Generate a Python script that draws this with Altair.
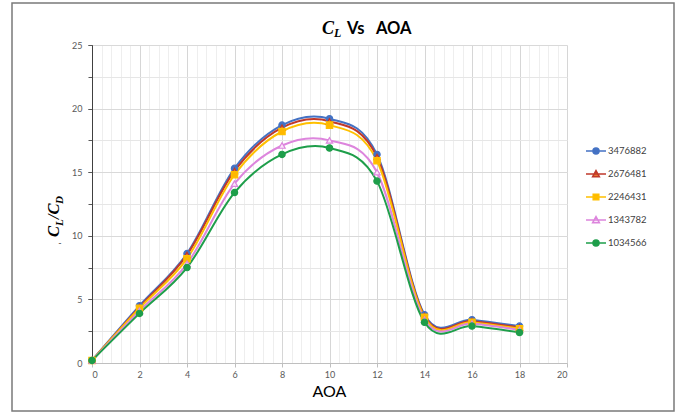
import altair as alt
import pandas as pd

# ---------------- data ----------------
aoa = [0, 2, 4, 6, 8, 10, 12, 14, 16, 18]
series_names = ["3476882", "2676481", "2246431", "1343782", "1034566"]
s_3476882 = [0.2, 4.5, 8.6, 15.3, 18.7, 19.2, 16.4, 3.8, 3.4, 2.9]
s_2676481 = [0.2, 4.4, 8.5, 15.1, 18.5, 19.0, 16.2, 3.7, 3.3, 2.8]
s_2246431 = [0.2, 4.3, 8.2, 14.8, 18.2, 18.7, 15.9, 3.6, 3.2, 2.7]
s_1343782 = [0.2, 4.1, 7.8, 14.1, 17.1, 17.5, 15.0, 3.4, 3.1, 2.6]
s_1034566 = [0.2, 3.9, 7.5, 13.4, 16.4, 16.9, 14.3, 3.2, 2.9, 2.4]
x_ticks = [0, 2, 4, 6, 8, 10, 12, 14, 16, 18, 20]
y_ticks = [0, 5, 10, 15, 20, 25]

series_values = [s_3476882, s_2676481, s_2246431, s_1343782, s_1034566]
rows = []
for name, vals in zip(series_names, series_values):
    for a, v in zip(aoa, vals):
        rows.append({"AOA": a, "CLCD": v, "series": name})
df = pd.DataFrame(rows)

# ---------------- styles ----------------
line_colors = ["#4472C4", "#C0392B", "#FFC000", "#DD85DD", "#1E9E4A"]
fill_colors = ["#4472C4", "#EA7A2E", "#FFB800", "#FBE6FB", "#1E9E4A"]
marker_shapes = ["circle", "triangle-up", "square", "triangle-up", "circle"]
legend_shapes = [
    "M-1,0H1M0.3,0A0.3,0.3,0,1,1,-0.3,0A0.3,0.3,0,1,1,0.3,0Z",
    "M-1,0H1M0,-0.34L0.34,0.28L-0.34,0.28Z",
    "M-1,0H1M-0.28,-0.28H0.28V0.28H-0.28Z",
    "M-1,0H1M0,-0.34L0.34,0.28L-0.34,0.28Z",
    "M-1,0H1M0.3,0A0.3,0.3,0,1,1,-0.3,0A0.3,0.3,0,1,1,0.3,0Z",
]

minor_x = [round(0.4 * i, 1) for i in range(51)]
minor_y = [2.5 * i for i in range(11)]

x_scale = alt.Scale(domain=[0, 20], nice=False, zero=False)
y_scale = alt.Scale(domain=[0, 25], nice=False)

SANS = "Lato"
SERIF = "Liberation Serif"

# lines (with minor grid axes)
lines = alt.Chart(df).mark_line(interpolate="cardinal", strokeWidth=2).encode(
    x=alt.X("AOA:Q", scale=x_scale,
            axis=alt.Axis(orient="bottom", values=minor_x, grid=True, gridColor="#eeeeee",
                          labels=False, ticks=False, domain=False, title=None)),
    y=alt.Y("CLCD:Q", scale=y_scale,
            axis=alt.Axis(orient="left", values=minor_y, grid=True, gridColor="#e6e6e6",
                          labels=False, ticks=True, tickSize=4, tickColor="#595959",
                          domain=False, title=None)),
    color=alt.Color("series:N", scale=alt.Scale(domain=series_names, range=line_colors), legend=None),
    detail="series:N",
)

# markers (with main axes)
markers = alt.Chart(df).mark_point(size=40, strokeWidth=1.2, opacity=1).encode(
    x=alt.X("AOA:Q", scale=x_scale,
            axis=alt.Axis(orient="bottom", values=x_ticks, grid=True, gridColor="#d6d6d6",
                          labelFontSize=9, labelColor="#595959", labelFont=SANS,
                          ticks=True, tickSize=4, tickColor="#bfbfbf",
                          domain=True, domainColor="#bfbfbf", labelPadding=3, title=None)),
    y=alt.Y("CLCD:Q", scale=y_scale,
            axis=alt.Axis(orient="left", values=y_ticks, grid=True, gridColor="#d9d9d9",
                          labelFontSize=9, labelColor="#595959", labelFont=SANS,
                          ticks=True, tickSize=4, tickColor="#595959",
                          domain=True, domainColor="#404040", labelPadding=6, title=None)),
    fill=alt.Fill("series:N", scale=alt.Scale(domain=series_names, range=fill_colors), legend=None),
    stroke=alt.Stroke("series:N", scale=alt.Scale(domain=series_names, range=line_colors), legend=None),
    shape=alt.Shape("series:N", scale=alt.Scale(domain=series_names, range=marker_shapes), legend=None),
)

names_js = "[" + ",".join("'%s'" % n for n in series_names) + "]"
fills_js = "[" + ",".join("'%s'" % c for c in fill_colors) + "]"
fill_expr = "%s[indexof(%s, datum.value)]" % (fills_js, names_js)

leg = alt.Legend(orient="none", legendX=493, legendY=95, title=None, symbolSize=400,
                 symbolStrokeWidth=1.5, labelFontSize=9.5, labelFont=SANS, labelColor="#404040",
                 labelOffset=1, rowPadding=6, padding=0,
                 symbolFillColor={"expr": fill_expr})

legend_layer = alt.Chart(df).mark_point(opacity=0).encode(
    x=alt.X("AOA:Q", scale=x_scale, axis=None),
    y=alt.Y("CLCD:Q", scale=y_scale, axis=None),
    fill=alt.Fill("series:N", scale=alt.Scale(domain=series_names, range=fill_colors), legend=None),
    stroke=alt.Stroke("series:N", scale=alt.Scale(domain=series_names, range=line_colors), legend=leg),
    shape=alt.Shape("series:N", scale=alt.Scale(domain=series_names, range=legend_shapes), legend=leg),
)

one = pd.DataFrame({"k": [0]})

def txt(s, x, y, size, font, weight="normal", style="normal", angle=0, align="left", color="#000000"):
    return alt.Chart(one).mark_text(
        fontSize=size, font=font, fontWeight=weight, fontStyle=style, angle=angle,
        align=align, baseline="alphabetic", color=color
    ).encode(x=alt.value(x), y=alt.value(y), text=alt.value(s))

# chart title  "C_L  Vs  AOA"
t1 = txt("C", 230, -11.5, 18, SERIF, "bold", "italic")
t2 = txt("L", 242, -8, 12, SERIF, "bold", "italic")
t3 = txt("Vs", 255, -11.5, 16.5, SANS, "bold")
t4 = txt("AOA", 284, -11.5, 16.5, SANS, "bold")

# y title  "C_L / C_D" rotated
y1 = txt("C", -33, 192, 16.5, SERIF, "bold", "italic", angle=270)
y2 = txt("L", -29, 181, 11, SERIF, "bold", "italic", angle=270)
y3 = txt("/C", -33, 174, 16.5, SERIF, "bold", "italic", angle=270)
y4 = txt("D", -29, 159, 11, SERIF, "bold", "italic", angle=270)
ydash = txt("-", -32, 201, 9, SANS, "normal", align="center", color="#444444")

# x title
xt = txt("AOA", 237.5, 352, 16, SANS, "normal", align="center")

frame = alt.Chart(one).mark_rect(fill="transparent", stroke="#7a7a7a", strokeWidth=1.5).encode(
    x=alt.value(-80), x2=alt.value(582), y=alt.value(-42), y2=alt.value(366)
)

chart = alt.layer(
    lines, markers, legend_layer, t1, t2, t3, t4, y1, y2, y3, y4, ydash, xt, frame
).resolve_scale(
    color="independent", fill="independent", stroke="independent", shape="independent"
).resolve_axis(
    x="independent", y="independent"
).properties(
    width=475, height=318,
    padding={"left": 92, "top": 45, "right": 110, "bottom": 53},
    autosize=alt.AutoSizeParams(type="none"),
    background="white",
).configure_view(stroke=None)

chart.save("out.html", embed_options={"renderer": "svg", "actions": False})
